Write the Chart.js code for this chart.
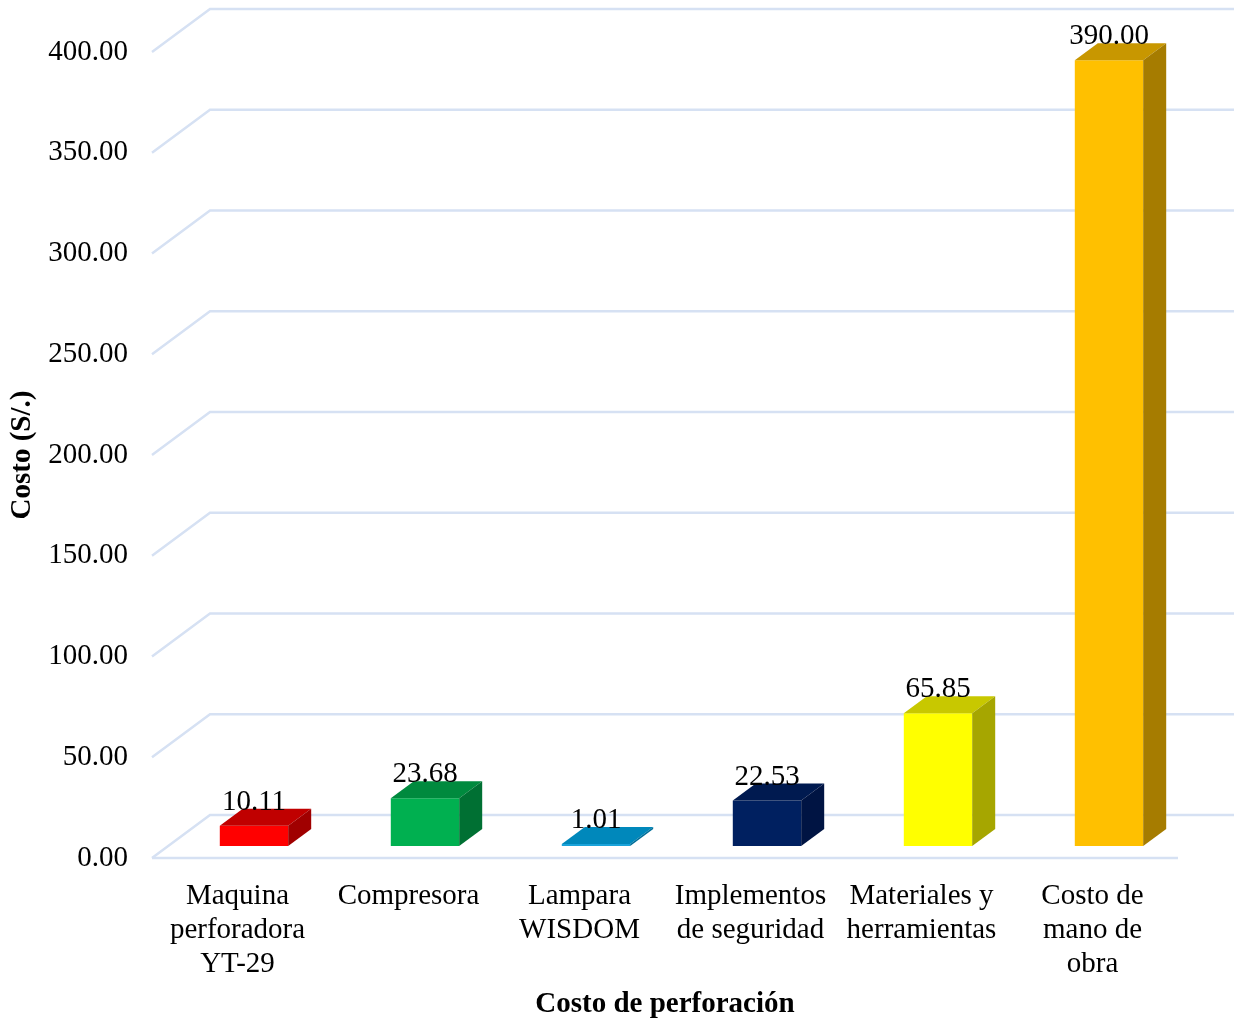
<!DOCTYPE html>
<html lang="es">
<head>
    <meta charset="UTF-8">
    <title>Costo de perforación</title>
    <script src="https://cdn.jsdelivr.net/npm/chart.js@4.4.1/dist/chart.umd.min.js"></script>
    <style>
        body {
            margin: 0;
            background: white;
        }

        #wrap {
            width: 1238px;
            height: 1020px;
        }
    </style>
</head>
<body>
    <div id="wrap">
        <canvas id="myChart" width="1238" height="1020"></canvas>
    </div>

<script>
    const categories = [
        ['Maquina', 'perforadora', 'YT-29'],
        ['Compresora'],
        ['Lampara', 'WISDOM'],
        ['Implementos', 'de seguridad'],
        ['Materiales y', 'herramientas'],
        ['Costo de', 'mano de', 'obra']
    ]
    const costs = [10.11, 23.68, 1.01, 22.53, 65.85, 390.00]

    const frontColors = ['#FF0000', '#00B050', '#1AA3DA', '#002060', '#FFFF00', '#FFC000']
    const topColors = ['#C00000', '#008A3E', '#0088BB', '#001A50', '#C8C800', '#C89700']
    const sideColors = ['#A00000', '#007033', '#006F99', '#001443', '#A6A600', '#A67C00']

    const gridColor = 'rgb(214, 225, 243)'
    const serif = "'Liberation Serif', 'Times New Roman', serif"

    // depth of the box and where the bars sit inside the floor
    const wall = { dx: 58, dy: -43 }
    const barShift = { dx: 16.5, dy: -12 }
    const depth = { dx: 23, dy: -17 }

    const box3d = {
        id: 'box3d',
        beforeDatasetsDraw(chart) {
            const ctx = chart.ctx
            const y = chart.scales.y
            const area = chart.chartArea
            ctx.save()
            ctx.strokeStyle = gridColor
            ctx.lineWidth = 2.5
            y.ticks.forEach(t => {
                const py = y.getPixelForValue(t.value)
                ctx.beginPath()
                ctx.moveTo(area.left, py)
                ctx.lineTo(area.left + wall.dx, py + wall.dy)
                ctx.lineTo(chart.width - 4, py + wall.dy)
                ctx.stroke()
            })
            // front edge of the floor
            const base = y.getPixelForValue(0)
            ctx.beginPath()
            ctx.moveTo(area.left, base)
            ctx.lineTo(area.right, base)
            ctx.stroke()
            ctx.restore()

            ctx.save()
            ctx.translate(barShift.dx, barShift.dy)
        },
        afterDatasetsDraw(chart) {
            const ctx = chart.ctx
            const meta = chart.getDatasetMeta(0)
            meta.data.forEach((bar, i) => {
                const left = bar.x - bar.width / 2
                const right = bar.x + bar.width / 2
                const top = bar.y
                const bottom = bar.base

                // top face
                ctx.fillStyle = topColors[i]
                ctx.beginPath()
                ctx.moveTo(left, top)
                ctx.lineTo(right, top)
                ctx.lineTo(right + depth.dx, top + depth.dy)
                ctx.lineTo(left + depth.dx, top + depth.dy)
                ctx.closePath()
                ctx.fill()

                // right side
                ctx.fillStyle = sideColors[i]
                ctx.beginPath()
                ctx.moveTo(right, top)
                ctx.lineTo(right + depth.dx, top + depth.dy)
                ctx.lineTo(right + depth.dx, bottom + depth.dy)
                ctx.lineTo(right, bottom)
                ctx.closePath()
                ctx.fill()

                // value label
                ctx.fillStyle = '#000'
                ctx.font = '29px ' + serif
                ctx.textAlign = 'center'
                ctx.textBaseline = 'alphabetic'
                ctx.fillText(costs[i].toFixed(2), bar.x, top + depth.dy + 1)
            })
            ctx.restore()
        }
    }

    const chart = new Chart('myChart', {
        type: 'bar',
        data: {
            labels: categories,
            datasets: [{
                data: costs,
                backgroundColor: frontColors,
                borderWidth: 0,
                barPercentage: 0.4,
                categoryPercentage: 1
            }]
        },
        options: {
            responsive: false,
            animation: false,
            layout: {
                padding: { top: 52, right: 60, left: 0, bottom: 0 }
            },
            plugins: {
                legend: { display: false },
                tooltip: { enabled: false }
            },
            scales: {
                x: {
                    grid: { display: false },
                    border: { display: false },
                    ticks: {
                        color: '#000',
                        font: { family: serif, size: 29, lineHeight: 34 / 29 },
                        maxRotation: 0,
                        autoSkip: false,
                        padding: 13
                    },
                    title: {
                        display: true,
                        text: 'Costo de perforación',
                        color: '#000',
                        font: { family: serif, size: 29, weight: 'bold', lineHeight: 1.1 },
                        padding: { top: 0, bottom: 0 }
                    },
                    afterFit(scale) {
                        scale.height = 162
                    }
                },
                y: {
                    min: 0,
                    max: 400,
                    grid: { display: false },
                    border: { display: false },
                    ticks: {
                        stepSize: 50,
                        color: '#000',
                        font: { family: serif, size: 29 },
                        padding: 16,
                        callback: v => v.toFixed(2)
                    },
                    title: {
                        display: true,
                        text: 'Costo (S/.)',
                        color: '#000',
                        font: { family: serif, size: 29, weight: 'bold' },
                        padding: { top: 5, bottom: 0 }
                    },
                    afterFit(scale) {
                        scale.width = 152
                    }
                }
            }
        },
        plugins: [box3d]
    })
</script>
</body>
</html>
